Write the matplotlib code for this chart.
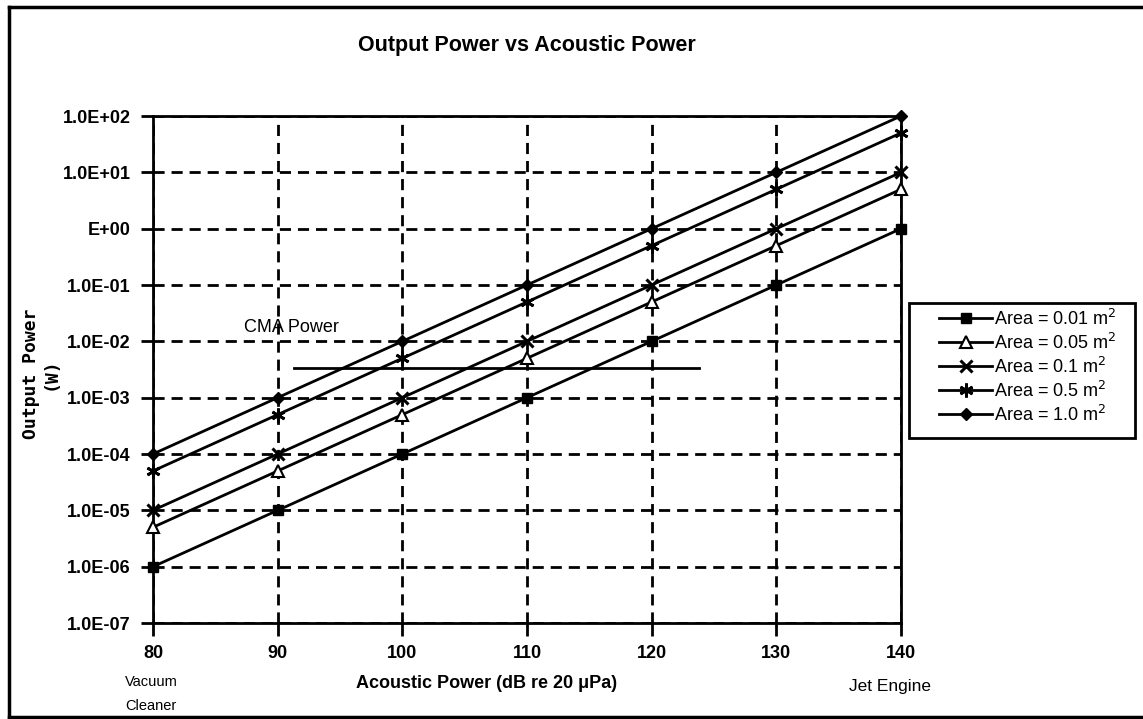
import matplotlib
matplotlib.use("Agg")
import matplotlib.pyplot as plt
from matplotlib.lines import Line2D
from matplotlib.patches import Rectangle

plt.rcParams['font.family'] = ['Liberation Sans', 'DejaVu Sans']

# ---- data ----
acoustic_db = [80, 90, 100, 110, 120, 130, 140]
area_001 = [1e-6, 1e-5, 1e-4, 1e-3, 1e-2, 1e-1, 1e0]
area_005 = [5e-6, 5e-5, 5e-4, 5e-3, 5e-2, 5e-1, 5e0]
area_01 = [1e-5, 1e-4, 1e-3, 1e-2, 1e-1, 1e0, 1e1]
area_05 = [5e-5, 5e-4, 5e-3, 5e-2, 5e-1, 5e0, 5e1]
area_10 = [1e-4, 1e-3, 1e-2, 1e-1, 1e0, 1e1, 1e2]
series_labels = ["Area = 0.01 m$^2$", "Area = 0.05 m$^2$", "Area = 0.1 m$^2$",
                 "Area = 0.5 m$^2$", "Area = 1.0 m$^2$"]
cma_x = [91.3, 123.8]
cma_y = [3.4e-3, 3.4e-3]
y_ticks = [1e-7, 1e-6, 1e-5, 1e-4, 1e-3, 1e-2, 1e-1, 1e0, 1e1, 1e2]
y_tick_labels = ["1.0E-07", "1.0E-06", "1.0E-05", "1.0E-04", "1.0E-03",
                 "1.0E-02", "1.0E-01", "E+00", "1.0E+01", "1.0E+02"]
x_ticks = [80, 90, 100, 110, 120, 130, 140]

W, H = 1143, 719
fig = plt.figure(figsize=(W / 100, H / 100), dpi=100)
ax = fig.add_axes([153 / W, 1 - 623 / H, (901 - 153) / W, (623 - 116) / H])

styles = [
    dict(marker='s', markersize=7, markerfacecolor='black'),
    dict(marker='^', markersize=8, markerfacecolor='white', markeredgewidth=1.5),
    dict(marker='x', markersize=9, markeredgewidth=2.2),
    dict(marker=(6, 2, 0), markersize=10, markeredgewidth=2),
    dict(marker='D', markersize=6, markerfacecolor='black'),
]
all_series = [area_001, area_005, area_01, area_05, area_10]
handles = []
for vals, st, lab in zip(all_series, styles, series_labels):
    ln, = ax.plot(acoustic_db, vals, color='black', linewidth=2,
                  markeredgecolor='black', label=lab, clip_on=False, zorder=5, **st)
    handles.append(ln)

ax.plot(cma_x, cma_y, color='black', linewidth=2, zorder=4)
ax.text(87.3, 1.75e-2, "CMA Power", fontsize=13, ha='left', va='center')

ax.set_yscale('log')
ax.set_xlim(80, 140)
ax.set_ylim(1e-7, 1e2)
ax.set_xticks(x_ticks)
ax.set_xticklabels([str(v) for v in x_ticks], fontsize=13, fontweight='bold')
ax.set_yticks(y_ticks)
ax.set_yticklabels(y_tick_labels, fontsize=13, fontweight='bold')
ax.yaxis.set_minor_locator(matplotlib.ticker.NullLocator())
ax.tick_params(axis='both', direction='out', length=9, width=2, color='black', pad=7)
ax.grid(True, which='major', color='black', linestyle=(0, (4, 2.5)), linewidth=2)
for s in ax.spines.values():
    s.set_linewidth(2)
    s.set_color('black')

fig.text(527 / W, 1 - 45 / H, "Output Power vs Acoustic Power", fontsize=15.5,
         fontweight='bold', ha='center', va='center')

fig.text(41 / W, 1 - 374 / H, "Output Power\n(W)", rotation=90, fontsize=13,
         fontweight='bold', ha='center', va='center', family='DejaVu Sans Mono',
         linespacing=1.1)
fig.text(487 / W, 1 - 683 / H, "Acoustic Power (dB re 20 \u03bcPa)", fontsize=13,
         fontweight='bold', ha='center', va='center')
fig.text(151 / W, 1 - 682 / H, "Vacuum", fontsize=10.5, ha='center', va='center')
fig.text(151 / W, 1 - 706 / H, "Cleaner", fontsize=10.5, ha='center', va='center')
fig.text(890 / W, 1 - 687 / H, "Jet Engine", fontsize=12.5, ha='center', va='center')

leg = fig.legend(handles=handles, loc='upper left',
                 bbox_to_anchor=(934 / W, 1 - 303 / H), fontsize=13,
                 frameon=False, handlelength=2.9,
                 labelspacing=0.22, borderpad=0.3, handletextpad=0.1,
                 borderaxespad=0)

# legend frame
fig.add_artist(Rectangle((909 / W, 1 - 438 / H), (1135 - 909) / W, (438 - 303) / H,
                         transform=fig.transFigure, fill=False, edgecolor='black',
                         linewidth=2))

# outer frame
fig.add_artist(Line2D([9 / W, 9 / W], [1 - 7 / H, 1 - 717 / H], color='black', linewidth=2.5,
                      transform=fig.transFigure))
fig.add_artist(Line2D([9 / W, 1.0], [1 - 7 / H, 1 - 7 / H], color='black', linewidth=2.5,
                      transform=fig.transFigure))
fig.add_artist(Line2D([9 / W, 1.0], [1 - 717 / H, 1 - 717 / H], color='black', linewidth=2.5,
                      transform=fig.transFigure))

fig.savefig("out.png", dpi=100)
